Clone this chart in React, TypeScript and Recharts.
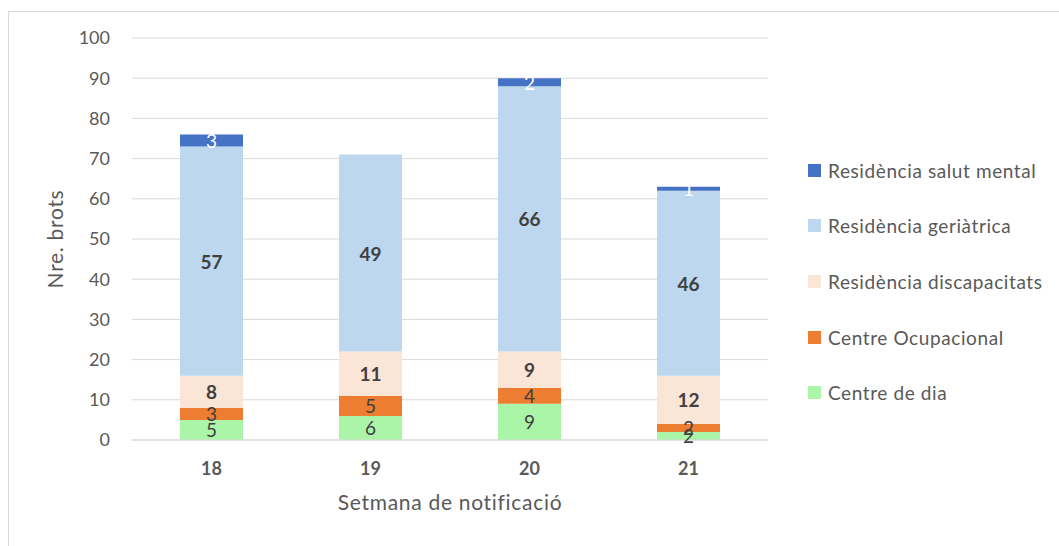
import React from "react";
import { BarChart, Bar, XAxis, YAxis, CartesianGrid, LabelList, Label } from "recharts";

const weeks = ["18", "19", "20", "21"];
const centreDia = [5, 6, 9, 2];
const centreOcupacional = [3, 5, 4, 2];
const residDiscapacitats = [8, 11, 9, 12];
const residGeriatrica = [57, 49, 66, 46];
const residSalutMental = [3, 0, 2, 1];
const yTicks = [0, 10, 20, 30, 40, 50, 60, 70, 80, 90, 100];

const series = [
  { key: "dia", name: "Centre de dia", values: centreDia, color: "#ABF5A9", labelColor: "#404040", bold: false },
  { key: "ocup", name: "Centre Ocupacional", values: centreOcupacional, color: "#ED7D31", labelColor: "#404040", bold: false },
  { key: "disc", name: "Residència discapacitats", values: residDiscapacitats, color: "#FBE5D6", labelColor: "#404040", bold: true },
  { key: "geri", name: "Residència geriàtrica", values: residGeriatrica, color: "#BDD7EE", labelColor: "#404040", bold: true },
  { key: "salut", name: "Residència salut mental", values: residSalutMental, color: "#4472C4", labelColor: "#FFFFFF", bold: false },
];

const data = weeks.map((w, i) => {
  const row: Record<string, any> = { week: w };
  series.forEach((s) => (row[s.key] = s.values[i]));
  return row;
});

const FONT = "Lato, 'Open Sans', sans-serif";

function makeLabel(color: string, bold: boolean) {
  return (props: any) => {
    const { x, y, width, height, value } = props;
    if (!value) return null;
    return (
      <text
        x={x + width / 2}
        y={y + height / 2}
        textAnchor="middle"
        dominantBaseline="central"
        fill={color}
        fontSize={19}
        fontWeight={bold ? 700 : 400}
        fontFamily={FONT}
      >
        {value}
      </text>
    );
  };
}

export default function App() {
  return (
    <div style={{ position: "fixed", left: 0, top: 0, width: 1059, height: 546, overflow: "hidden", background: "#fff", fontFamily: FONT }}>
      <div style={{ position: "absolute", left: 8, top: 11, width: 1100, height: 600, border: "1px solid #D9D9D9" }} />
      <div style={{ position: "absolute", left: 0, top: 0 }}>
        <BarChart width={1059} height={546} data={data} margin={{ top: 38, right: 291, bottom: 36, left: 0 }}>
          <CartesianGrid vertical={false} stroke="#D9D9D9" />
          <XAxis
            dataKey="week"
            height={70}
            tickLine={false}
            axisLine={{ stroke: "#D9D9D9" }}
            tickMargin={16}
            tick={{ fill: "#595959", fontSize: 18, fontWeight: 700, fontFamily: FONT }}
          >
            <Label
              value="Setmana de notificació"
              position="insideBottom"
              offset={0}
              fill="#595959"
              fontSize={21}
              letterSpacing={0.7}
              fontFamily={FONT}
            />
          </XAxis>
          <YAxis
            width={132}
            domain={[0, 100]}
            ticks={yTicks}
            tickLine={false}
            axisLine={false}
            tickMargin={16}
            tick={{ fill: "#595959", fontSize: 18, fontFamily: FONT }}
          >
            <Label
              content={() => (
                <text
                  x={63}
                  y={239}
                  transform="rotate(-90, 63, 239)"
                  textAnchor="middle"
                  fill="#595959"
                  fontSize={21}
                  letterSpacing={0.7}
                  fontFamily={FONT}
                >
                  Nre. brots
                </text>
              )}
            />
          </YAxis>
          {series.map((s) => (
            <Bar key={s.key} dataKey={s.key} name={s.name} stackId="a" fill={s.color} barSize={63} isAnimationActive={false}>
              <LabelList dataKey={s.key} content={makeLabel(s.labelColor, s.bold)} />
            </Bar>
          ))}
        </BarChart>
      </div>
      <div style={{ position: "absolute", left: 808, top: 0 }}>
        {series
          .slice()
          .reverse()
          .map((s, i) => (
            <div
              key={s.key}
              style={{ position: "absolute", left: 0, top: 170 + i * 55.7 - 12, height: 24, display: "flex", alignItems: "center", whiteSpace: "nowrap" }}
            >
              <span style={{ display: "inline-block", width: 13, height: 13, background: s.color, marginRight: 7 }} />
              <span style={{ color: "#595959", fontSize: 19, letterSpacing: 0.6, fontFamily: FONT }}>{s.name}</span>
            </div>
          ))}
      </div>
    </div>
  );
}
